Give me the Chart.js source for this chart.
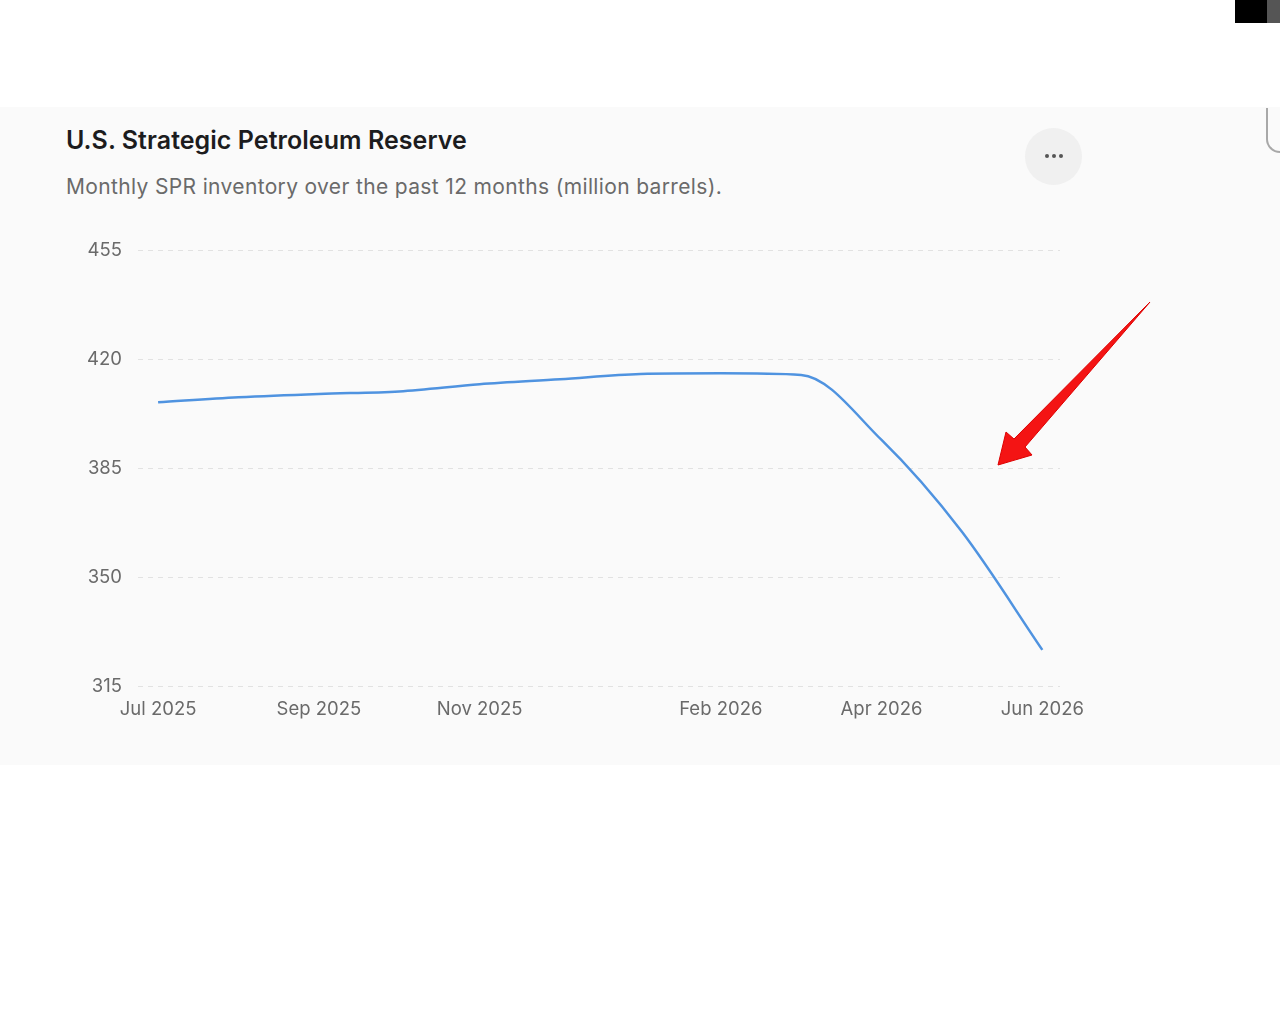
<!DOCTYPE html>
<html>
<head>
<meta charset="utf-8">
<script src="https://cdn.jsdelivr.net/npm/chart.js@4.4.1/dist/chart.umd.min.js"></script>
<style>
  body { margin: 0; background: #fff; font-family: Inter, "Noto Sans", sans-serif; }
  #page { position: relative; width: 1280px; height: 1020px; overflow: hidden; }
  .card { position: absolute; left: 0; top: 107px; width: 1280px; height: 658px; background: #fafafa; }
  .title { position: absolute; left: 66px; top: 125px; font-size: 25px; font-weight: 600; color: #1c1c1e; letter-spacing: 0.05px; }
  .subtitle { position: absolute; left: 66px; top: 174px; font-size: 21px; color: #6a6a6a; letter-spacing: 0.35px; }
  .more { position: absolute; left: 1025px; top: 128px; width: 57px; height: 57px; border-radius: 50%; background: #f0f0f0; }
  .more i { position: absolute; top: 26px; width: 4px; height: 4px; border-radius: 50%; background: #555; }
  .corner { position: absolute; left: 1266px; top: 108px; width: 30px; height: 43px; border-left: 2px solid #a8a8a8; border-bottom: 2px solid #a8a8a8; border-bottom-left-radius: 14px; }
  .blk { position: absolute; top: 0; height: 23px; }
  #wrap { position: absolute; left: 0; top: 230px; width: 1100px; height: 510px; }
  #arrow { position: absolute; left: 0; top: 0; }
</style>
</head>
<body>
<div id="page">
  <div class="blk" style="left:1235px;width:32px;background:#000"></div>
  <div class="blk" style="left:1267px;width:13px;background:#555"></div>
  <div class="card"></div>
  <div class="corner"></div>
  <div class="title">U.S. Strategic Petroleum Reserve</div>
  <div class="subtitle">Monthly SPR inventory over the past 12 months (million barrels).</div>
  <div class="more"><i style="left:20px"></i><i style="left:27px"></i><i style="left:34px"></i></div>
  <div id="wrap"><canvas id="sprChart"></canvas></div>
  <svg id="arrow" width="1280" height="1020">
    <polygon points="1150,302 1025,447 1032,455 998,465 1006,432 1014,439" fill="#f41414" stroke="#d00" stroke-width="1" stroke-linejoin="round"/>
  </svg>
</div>
<script>
// months on the x axis, one point each
const months = ['Jul 2025', 'Aug 2025', 'Sep 2025', 'Oct 2025', 'Nov 2025', 'Dec 2025',
                'Jan 2026', 'Feb 2026', 'Mar 2026', 'Apr 2026', 'May 2026', 'Jun 2026'];
// SPR inventory, million barrels
const inventory = [406.1, 407.7, 408.8, 409.6, 411.9, 413.5, 415.2, 415.4, 414.9, 394.0, 364.5, 326.6];
// which month labels are shown
const shownMonths = ['Jul 2025', 'Sep 2025', 'Nov 2025', 'Feb 2026', 'Apr 2026', 'Jun 2026'];
const yTicks = [315, 350, 385, 420, 455];

const tickFont = { family: 'Inter, "Noto Sans", sans-serif', size: 18.5 };

new Chart(document.getElementById('sprChart'), {
    type: 'line',
    data: {
        datasets: [{
            label: 'SPR inventory',
            data: months.map((m, i) => ({ x: i, y: inventory[i] })),
            borderColor: '#4f93e0',
            borderWidth: 2.5,
            pointRadius: 0,
            fill: false,
            cubicInterpolationMode: 'monotone'
        }]
    },
    options: {
        responsive: true,
        maintainAspectRatio: false,
        animation: false,
        layout: { padding: { top: 20, right: 40, left: 0, bottom: 0 } },
        plugins: { legend: { display: false }, tooltip: { enabled: false } },
        scales: {
            x: {
                type: 'linear',
                min: -0.25,
                max: 11.22,
                grid: { display: false, drawTicks: false },
                border: { display: false },
                afterBuildTicks: s => { s.ticks = shownMonths.map(m => ({ value: months.indexOf(m) })); },
                afterFit: s => { s.height = 54; s.paddingLeft = 0; s.paddingRight = 0; },
                ticks: {
                    color: '#6a6a6a',
                    font: tickFont,
                    padding: 12,
                    maxRotation: 0,
                    autoSkip: false,
                    callback: v => months[v]
                }
            },
            y: {
                min: yTicks[0],
                max: yTicks[yTicks.length - 1],
                afterBuildTicks: s => { s.ticks = yTicks.map(v => ({ value: v })); },
                afterFit: s => { s.width = 138; s.paddingTop = 0; s.paddingBottom = 0; },
                grid: { color: '#e2e2e2', lineWidth: 1, drawTicks: false },
                border: { display: false, dash: [5, 5] },
                ticks: { color: '#6a6a6a', font: tickFont, padding: 16 }
            }
        }
    }
});
</script>
</body>
</html>
